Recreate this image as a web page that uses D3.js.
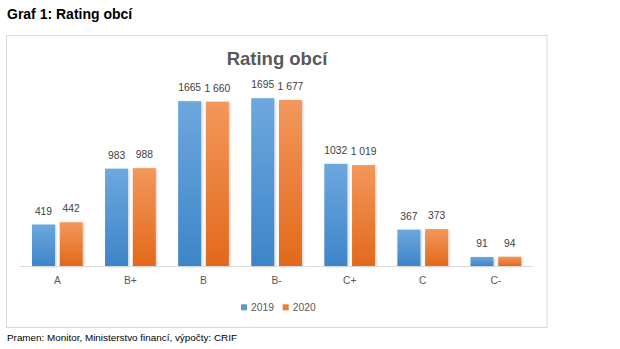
<!DOCTYPE html>
<html>
<head>
<meta charset="utf-8">
<script src="https://cdn.jsdelivr.net/npm/d3@7"></script>
<style>
  html, body { margin: 0; padding: 0; background: #fff; }
  svg { display: block; font-family: "Liberation Sans", Arial, sans-serif; }
</style>
</head>
<body>
<svg id="chart" width="620" height="349"></svg>
<script>
// Municipality rating counts by grade, 2019 vs 2020
const categories = ["A", "B+", "B", "B-", "C+", "C", "C-"];
const series = ["2019", "2020"];
const values2019 = [419, 983, 1665, 1695, 1032, 367, 91];
const values2020 = [442, 988, 1660, 1677, 1019, 373, 94];
const labels2019 = ["419", "983", "1665", "1695", "1032", "367", "91"];
const labels2020 = ["442", "988", "1 660", "1 677", "1 019", "373", "94"];

const svg = d3.select("#chart");

const colors = { "2019": ["#6DA7DE", "#3D85C8"], "2020": ["#F3975C", "#E2691B"] };
const legendColors = { "2019": "#5B9BD5", "2020": "#ED7D31" };

const defs = svg.append("defs");
series.forEach(s => {
  const g = defs.append("linearGradient")
    .attr("id", "grad" + s).attr("x1", 0).attr("y1", 0).attr("x2", 0).attr("y2", 1);
  g.append("stop").attr("offset", "0%").attr("stop-color", colors[s][0]);
  g.append("stop").attr("offset", "100%").attr("stop-color", colors[s][1]);
});
const shadow = defs.append("filter").attr("id", "barShadow")
  .attr("x", "-20%").attr("y", "-10%").attr("width", "150%").attr("height", "130%");
shadow.append("feDropShadow").attr("dx", 1.2).attr("dy", 0.8).attr("stdDeviation", 0.9)
  .attr("flood-color", "#000").attr("flood-opacity", 0.2);

// Heading above the chart frame
svg.append("text").attr("x", 7).attr("y", 18.5)
  .attr("font-size", 14).attr("font-weight", "bold").attr("fill", "#000")
  .text("Graf 1: Rating obcí");

// Chart frame
svg.append("rect").attr("x", 6.5).attr("y", 35.5).attr("width", 540.5).attr("height", 292)
  .attr("fill", "#fff").attr("stroke", "#d9d9d9").attr("stroke-width", 1);

// Chart title
svg.append("text").attr("x", 277).attr("y", 64.5).attr("text-anchor", "middle")
  .attr("font-size", 18.5).attr("font-weight", "bold").attr("fill", "#595959")
  .text("Rating obcí");

const x0 = d3.scaleBand().domain(categories).range([20.8, 532.4])
  .paddingInner(0.306).paddingOuter(0.153);
const x1 = d3.scaleBand().domain(series).range([0, x0.bandwidth()]).paddingInner(0.17);
const y = d3.scaleLinear().domain([0, 1800]).range([266, 87.8]);

const rows = categories.map((c, i) => ({
  cat: c,
  bars: [
    { s: "2019", v: values2019[i], label: labels2019[i] },
    { s: "2020", v: values2020[i], label: labels2020[i] }
  ]
}));

const groups = svg.append("g").selectAll("g").data(rows).join("g")
  .attr("transform", d => `translate(${x0(d.cat)},0)`);

groups.selectAll("rect").data(d => d.bars).join("rect")
  .attr("x", d => x1(d.s))
  .attr("y", d => y(d.v))
  .attr("width", x1.bandwidth())
  .attr("height", d => y(0) - y(d.v))
  .attr("fill", d => `url(#grad${d.s})`)
  .attr("filter", "url(#barShadow)");

groups.selectAll("text").data(d => d.bars).join("text")
  .attr("x", d => x1(d.s) + x1.bandwidth() / 2)
  .attr("y", d => y(d.v) - 10)
  .attr("text-anchor", "middle")
  .attr("font-size", 10.3).attr("fill", "#404040")
  .text(d => d.label);

// Category axis
const xAxis = svg.append("g").attr("transform", `translate(0,${y(0)})`)
  .call(d3.axisBottom(x0).tickSize(0).tickPadding(10.5));
xAxis.select(".domain").attr("stroke", "#d9d9d9").attr("d", "M20,0.5H533");
xAxis.selectAll("text").attr("font-size", 10.3).attr("fill", "#595959")
  .attr("font-family", "Liberation Sans, Arial, sans-serif");

// Legend
const legend = svg.append("g").selectAll("g").data(series).join("g")
  .attr("transform", (d, i) => `translate(${241 + i * 41.7},304.3)`);
legend.append("rect").attr("width", 6).attr("height", 6)
  .attr("fill", d => legendColors[d]);
legend.append("text").attr("x", 10).attr("y", 6.4)
  .attr("font-size", 10.3).attr("fill", "#595959").text(d => d);

// Source note
svg.append("text").attr("x", 7).attr("y", 340.5)
  .attr("font-size", 9.9).attr("fill", "#000")
  .text("Pramen: Monitor, Ministerstvo financí, výpočty: CRIF");
</script>
</body>
</html>
